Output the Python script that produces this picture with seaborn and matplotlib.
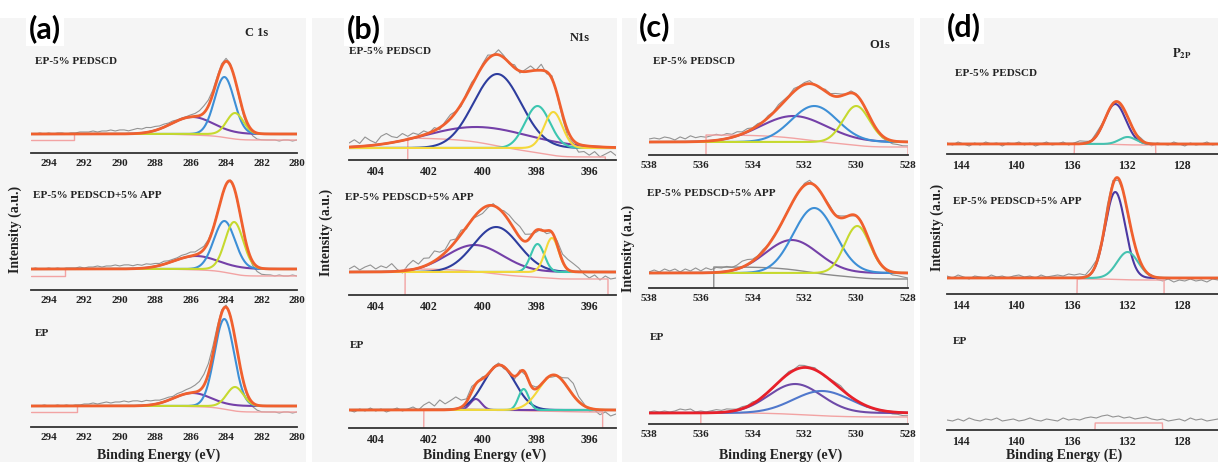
import numpy as np
import matplotlib
matplotlib.use("Agg")
import matplotlib.pyplot as plt
from matplotlib.ticker import MultipleLocator
from matplotlib.patches import Rectangle
import seaborn as sns

# ---------------- data ----------------
samples = ["EP-5% PEDSCD", "EP-5% PEDSCD+5% APP", "EP"]
titles = ["C 1s", "N1s", "O1s", r"$\mathbf{P_{2P}}$"]
letters = ["(a)", "(b)", "(c)", "(d)"]
xlabels = ["Binding Energy (eV)", "Binding Energy (eV)", "Binding Energy (eV)", "Binding Energy (E)"]

# binding energy windows (high -> low)
c1s_window = (295, 280)
n1s_window = (405, 395)
o1s_window = (538, 528)
p2p_window = (145, 125.4)

# fitted components: (centre eV, height a.u., FWHM eV)
c1s_pedscd = [(285.9, 17, 2.8), (284.1, 57, 1.3), (283.5, 21, 1.1)]
c1s_app = [(285.7, 13, 3.0), (284.1, 48, 1.4), (283.55, 47, 1.2)]
c1s_ep = [(285.9, 13, 2.5), (284.1, 87, 1.3), (283.5, 19, 1.1)]

n1s_pedscd = [(400.25, 21, 4.5), (399.45, 74, 2.1), (397.94, 42, 1.1), (397.35, 36, 0.8)]
n1s_app = [(400.3, 27, 2.5), (399.49, 45, 2.0), (397.94, 28, 0.6), (397.4, 34, 0.6)]
n1s_ep = [(400.25, 11, 0.5), (399.37, 45, 1.4), (398.46, 21, 0.45), (397.33, 35, 1.3)]

o1s_pedscd = [(532.43, 26, 3.0), (531.62, 36, 2.1), (530.0, 36, 1.2)]
o1s_app = [(532.49, 33, 2.4), (531.62, 65, 1.9), (529.96, 47, 1.15)]
o1s_ep = [(532.36, 29, 2.4), (531.33, 22, 2.6)]

p2p_pedscd = [(132.83, 40, 1.8), (131.94, 7, 1.4)]
p2p_app = [(132.83, 86, 1.7), (131.94, 26, 1.8)]
p2p_ep = []

# Shirley background: (high-BE end, low-BE end, level at high end, level at low end)
c1s_bg = [(292.6, 280, 0, -6), (293.1, 280, 0, -7), (292.4, 280, 0, -6)]
n1s_bg = [(402.8, 395.4, 10, -9), (402.9, 395.3, 3, -7), (402.2, 395.5, 1, -2)]
o1s_bg = [(535.8, 528, 7, -5), (535.5, 528, 6, -6), (536.0, 528, 0, -4)]
p2p_bg = [(135.8, 129.9, 0, -1), (135.6, 129.3, -1, -2), (134.3, 129.4, -3, -3)]

# measured spectra, as residual from the fit envelope (even energy steps across the window)
c1s_pedscd_raw = [0, 0, 1, 0, 1, 0, 1, 1, 0, 1, 1, 2, 2, 2, 3, 2, 3, 3, 4, 3,
                  4, 4, 3, 4, 5, 4, 5, 4, 4, 3, 3, 2, 2, 1, 1, 1, 2, 3, 5, 7,
                  6, 4, 3, 3, 3, 2, 0, -2, -3, -4, -5, -6, -6, -6, -6, -6, -7, -6, -6, -7, -6]
c1s_app_raw = [0, 1, 0, 0, 1, 0, 1, 0, 1, 1, 1, 2, 1, 2, 2, 3, 2, 3, 3, 4,
               3, 4, 4, 3, 4, 3, 4, 3, 3, 2, 3, 2, 2, 2, 3, 3, 4, 3, 4, 3,
               2, 1, 1, 0, 0, 1, 0, -1, -2, -3, -4, -5, -6, -6, -6, -7, -6, -7, -7, -6, -7]
c1s_ep_raw = [0, 0, 0, 1, 0, 0, 1, 0, 1, 0, 1, 1, 2, 2, 3, 2, 3, 4, 3, 4,
              4, 5, 4, 5, 5, 4, 5, 4, 4, 3, 3, 3, 2, 3, 3, 4, 5, 7, 9, 11,
              10, 8, 5, 3, 2, 1, 0, -1, -2, -3, -4, -5, -6, -6, -6, -6, -7, -6, -6, -7, -6]

n1s_pedscd_raw = [4, 7, 3, 9, 5, 2, 8, 10, 6, 4, 7, 3, 5, 2, 4, 0, 3, -2, 2, 4,
                  1, -2, 2, 3, -1, 2, 4, 0, 5, 2, -1, 3, -2, 2, 5, 0, 6, -2, 3, -1,
                  -4, -6, -3, -8, -6, -9, -5, -10, -7, -4, -8]
n1s_app_raw = [3, 6, 2, 5, 7, 3, 6, 4, 8, 2, -2, 5, 9, 4, 8, 6, 10, 5, 3, 7,
               2, 4, -2, 1, -3, -5, -2, 2, -1, 3, 6, 8, 11, 7, 3, -2, 1, -3, 0, 4,
               7, 10, 8, 4, -2, -6, -3, -8, -4, -7, -6]
n1s_ep_raw = [0, -2, 1, -1, 2, -1, 1, -2, 0, 2, -1, 1, 3, 0, 5, 8, 4, 10, 6, 9,
              12, 7, 3, 5, 0, 2, -1, 1, 2, -2, 1, -3, 2, -2, 0, 2, -1, 1, -2, 0,
              3, 10, 12, 5, 2, -3, -1, -5, -2, -6, -4]

o1s_pedscd_raw = [3, 4, 3, 5, 4, 2, 5, 3, 6, 4, 5, 4, 5, 6, 4, 5, 3, 4, 2, 3,
                  1, 2, 0, 2, 1, 3, 2, 1, 3, 1, 2, 3, 0, -1, 2, 1, 3, 2, 0, 2,
                  1, -1, 1, 0, -1, -2, -2, -3, -3, -4, -4]
o1s_app_raw = [1, 3, 1, 4, 2, 4, 1, 4, 2, 5, 2, 5, 3, 5, 4, 5, 3, 4, 6, 5,
               2, 1, 2, 0, 1, -1, 0, 1, -1, 0, 2, 3, 0, -1, 1, 2, 0, 2, 1, -1,
               0, 1, -1, 0, -1, -1, -2, -3, -3, -4, -5]
o1s_ep_raw = [1, 2, 1, 2, 1, 2, 4, 3, 4, 1, 2, 1, 2, 3, 2, 3, 2, 1, 2, 1,
              2, 0, 1, 0, -1, 0, 1, 2, 1, 3, 2, 1, 2, 0, -1, 1, 2, 3, 1, 0,
              -1, 0, -1, 0, -1, -2, -1, -2, -2, -3, -3]

p2p_pedscd_raw = [1, -1, 2, 0, -2, 1, -1, 2, 0, 1, -2, 1, 0, 2, -1, 1, -2, 0, 2, -1,
                  0, 2, -1, 1, 3, 2, 0, 3, 2, -1, 1, 0, -2, 1, -1, 2, 0, -2, 1, 0,
                  -1, 2, 0, -2, 1, -1, 0, 2, -1, 0]
p2p_app_raw = [2, 0, 3, 1, -1, 2, 1, 0, 3, 1, 2, 0, 2, 3, 1, 2, 0, 3, 1, 2,
               3, 2, 4, 3, 4, 2, 5, 3, 2, 6, 4, -2, 1, -3, 0, -2, -1, 1, -2, -3,
               -1, -4, -2, -3, -1, -3, -2, -4, -1, -2]
p2p_ep_raw = [0, -1, 1, -1, 2, 0, -1, 1, 0, 2, -1, 0, 1, -1, 0, 2, 0, -1, 1, 0,
              -1, 2, 0, 1, 0, 2, 3, 2, 4, 5, 3, 4, 2, 3, 1, 2, 3, 1, 0, 1,
              -1, 0, 1, -1, 2, 0, 1, -1, 0, 1]

windows = [c1s_window, n1s_window, o1s_window, p2p_window]
peaks = [[c1s_pedscd, c1s_app, c1s_ep], [n1s_pedscd, n1s_app, n1s_ep],
         [o1s_pedscd, o1s_app, o1s_ep], [p2p_pedscd, p2p_app, p2p_ep]]
raws = [[c1s_pedscd_raw, c1s_app_raw, c1s_ep_raw], [n1s_pedscd_raw, n1s_app_raw, n1s_ep_raw],
        [o1s_pedscd_raw, o1s_app_raw, o1s_ep_raw], [p2p_pedscd_raw, p2p_app_raw, p2p_ep_raw]]
backgrounds = [c1s_bg, n1s_bg, o1s_bg, p2p_bg]

# ---------------- style / layout ----------------
W, H = 1218, 462
ORANGE, RED, GREY, PINK = "#f0602e", "#e8202a", "#939393", "#f2a3a3"
PURPLE, BLUE, LIME = "#7440a8", "#3d8fd6", "#c6d92e"
NAVY, TEAL, YELLOW = "#2e3d9e", "#3cc6b0", "#f4d83a"
comp_colors = [
    [[PURPLE, BLUE, LIME]] * 3,
    [[PURPLE, NAVY, TEAL, YELLOW]] * 3,
    [[PURPLE, BLUE, LIME], [PURPLE, BLUE, LIME], ["#6e4aa8", "#5078cc"]],
    [["#4b38a2", "#45c2b0"]] * 3,
]
env_colors = [[ORANGE] * 3, [ORANGE] * 3, [ORANGE, ORANGE, RED], [ORANGE] * 3]
bg_colors = [[PINK] * 3, [PINK] * 3, [PINK, "#8a8a8a", PINK], [PINK] * 3]
bg_mode = ["step", "mark", "mark", "mark"]

# pixel layout per column
col_x = [(31, 297), (349, 616), (649, 908), (947, 1218)]
axis_y = [(153, 290, 427), (160, 295, 428), (155, 288, 424), (154, 294, 430)]
base_y = [(134, 269, 406), (148, 272, 410), (142, 273, 413), (144, 278, 420)]
major_step = [2, 2, 2, 4]
tick_size = [8, 8.5, 8, 8.5]
panel_box = [(0, 18, 306, 444), (312, 18, 305, 444), (622, 18, 292, 444), (920, 18, 298, 444)]
letter_xy = [(45, 29), (364, 29), (655, 27), (964, 27)]
title_xy = [(257, 33), (580, 38), (880, 45), (1182, 54)]
label_xy = [[(35, 62), (33, 195), (35, 333)], [(349, 52), (345, 197), (350, 346)],
            [(653, 62), (647, 193), (650, 337)], [(955, 73), (953, 202), (953, 342)]]
xlabel_xy = [(159, 455), (485, 455), (781, 455), (1064, 455)]
ylabel_xy = [(15, 229), (326, 232), (628, 248), (937, 227)]
SPAN = 125

sns.set_theme(style="white")
plt.rcParams["font.family"] = ["Liberation Serif", "DejaVu Serif"]
plt.rcParams["font.weight"] = "bold"
plt.rcParams["mathtext.fontset"] = "stix"


def fx(x):
    return x / W


def fy(y):
    return 1 - y / H


def gauss(e, c, h, fwhm):
    s = fwhm / 2.3548
    return h * np.exp(-0.5 * ((e - c) / s) ** 2)


def envelope(e, comps):
    tot = np.zeros_like(e)
    for c, h, w in comps:
        tot = tot + gauss(e, c, h, w)
    return tot


fig = plt.figure(figsize=(W / 100, H / 100), dpi=100)
fig.patch.set_facecolor("white")

for col in range(4):
    bx, by, bw, bh = panel_box[col]
    fig.patches.append(Rectangle((fx(bx), fy(by + bh)), bw / W, bh / H, transform=fig.transFigure,
                                 facecolor="#f5f5f5", edgecolor="none", zorder=-10))
    hi, lo = windows[col]
    x0, x1 = col_x[col]
    for row in range(3):
        ay, b0 = axis_y[col][row], base_y[col][row]
        off = ay - b0
        ax = fig.add_axes([fx(x0), fy(ay), (x1 - x0) / W, SPAN / H])
        ax.set_facecolor("none")
        ax.set_xlim(hi, lo)
        ax.set_ylim(-off, SPAN - off)

        comps = peaks[col][row]
        e = np.linspace(hi, lo, 800)
        env = envelope(e, comps)

        # measured spectrum
        raw = np.array(raws[col][row], dtype=float)
        er = np.linspace(hi, lo, len(raw))
        sns.lineplot(x=er, y=envelope(er, comps) + raw, ax=ax, color=GREY, linewidth=0.8,
                     sort=False, estimator=None, legend=False)

        # Shirley-type background
        e_hi, e_lo, b_hi, b_lo = backgrounds[col][row]
        m = (e <= e_hi) & (e >= e_lo)
        eb = e[m]
        area = np.cumsum(env[m][::-1])[::-1]
        frac = area / area[0] if area[0] > 0 else np.linspace(1, 0, len(eb))
        frac = frac - frac[-1]
        frac = frac / frac[0] if frac[0] > 0 else np.ones_like(frac)
        bg = b_lo + (b_hi - b_lo) * frac
        bcol = bg_colors[col][row]
        if bg_mode[col] == "step":
            ax.plot([hi, e_hi, e_hi], [b_lo, b_lo, b_hi], color=bcol, lw=1.0)
            ax.plot(eb, bg, color=bcol, lw=1.0)
        else:
            ax.plot(np.r_[e_hi, eb, e_lo], np.r_[-off, bg, -off], color=bcol, lw=1.0)

        # components and envelope
        for (c, h, w), cc in zip(comps, comp_colors[col][row]):
            sns.lineplot(x=e, y=gauss(e, c, h, w), ax=ax, color=cc, linewidth=1.5,
                         sort=False, estimator=None, legend=False)
        if comps:
            sns.lineplot(x=e, y=env, ax=ax, color=env_colors[col][row], linewidth=2.0,
                         sort=False, estimator=None, legend=False)

        for s in ["top", "left", "right"]:
            ax.spines[s].set_visible(False)
        ax.spines["bottom"].set_color("#333333")
        ax.spines["bottom"].set_linewidth(1.3)
        ax.xaxis.set_major_locator(MultipleLocator(major_step[col]))
        ax.xaxis.set_minor_locator(MultipleLocator(major_step[col] / 2))
        ax.tick_params(axis="x", which="major", direction="in", length=5.5, width=1.3, pad=4.5,
                       labelsize=tick_size[col], colors="#333333", labelcolor="#222222")
        ax.tick_params(axis="x", which="minor", direction="in", length=3, width=1.1, colors="#333333")
        ax.tick_params(axis="y", left=False, labelleft=False)
        ax.set_xlabel("")
        ax.set_ylabel("")

        lx, ly = label_xy[col][row]
        fig.text(fx(lx), fy(ly), samples[row], fontsize=8, fontweight="bold",
                 ha="left", va="center", color="#222222")

    lx, ly = letter_xy[col]
    fig.text(fx(lx), fy(ly), letters[col], fontsize=22, fontweight="bold", family=["Lato", "DejaVu Sans"],
             ha="center", va="center", color="black",
             bbox=dict(facecolor="white", edgecolor="none", pad=2))
    tx, ty = title_xy[col]
    fig.text(fx(tx), fy(ty), titles[col], fontsize=9, fontweight="bold", ha="center", va="center",
             color="#222222")
    xx, xy = xlabel_xy[col]
    fig.text(fx(xx), fy(xy), xlabels[col], fontsize=10, fontweight="bold", ha="center", va="center",
             color="#222222")
    yx, yy = ylabel_xy[col]
    fig.text(fx(yx), fy(yy), "Intensity (a.u.)", fontsize=10, fontweight="bold", rotation=90,
             ha="center", va="center", color="#222222")

fig.savefig("out.png", dpi=100, facecolor="white")
